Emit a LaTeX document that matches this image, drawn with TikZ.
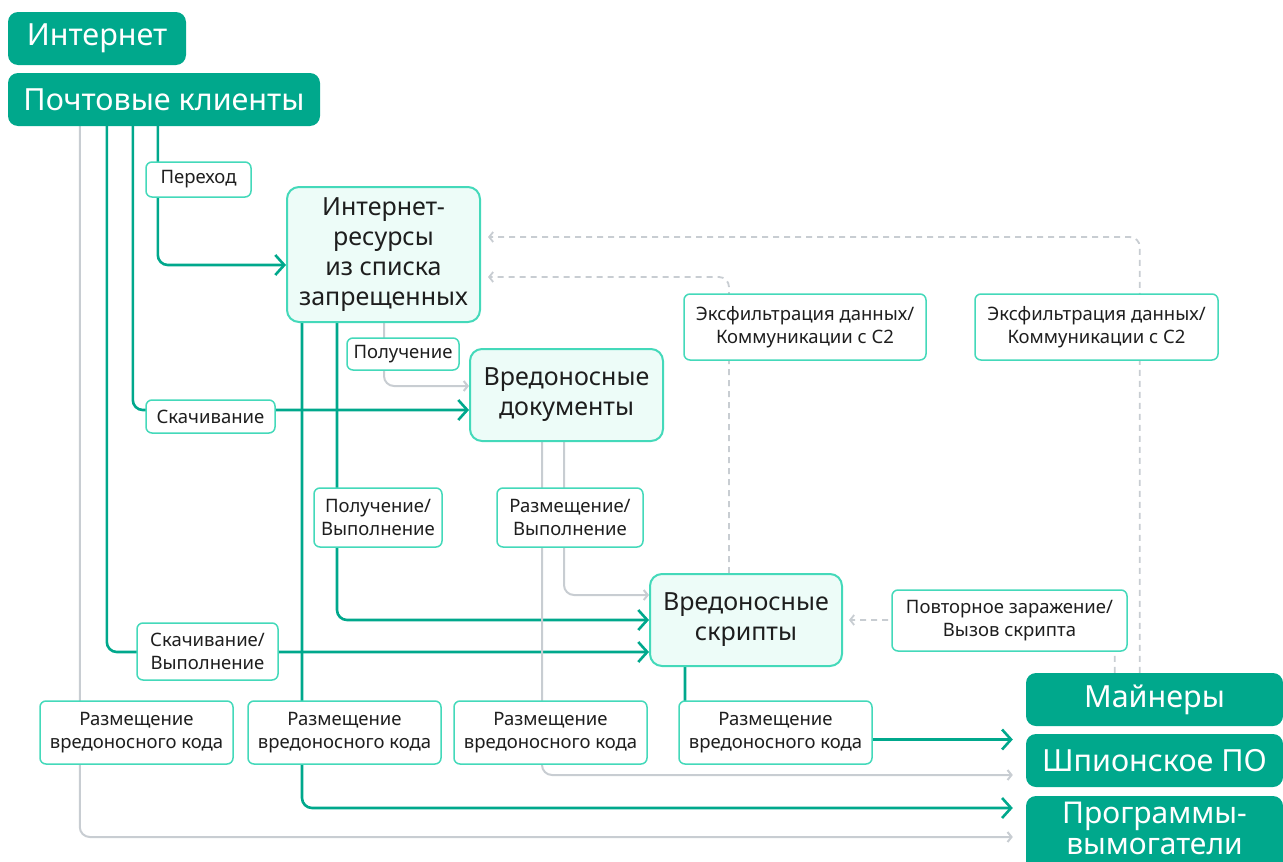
\documentclass[tikz,border=0pt]{standalone}
\usepackage{fontspec}
\setmainfont{Noto Sans}
\usetikzlibrary{arrows.meta,calc}
\definecolor{teal1}{HTML}{00A88C}
\definecolor{mint}{HTML}{44D9BA}
\definecolor{lite}{HTML}{EDFCF8}
\definecolor{grayl}{HTML}{C8CDD2}
\definecolor{ink}{HTML}{1E1E1E}
\pgfdeclarelayer{bg}
\pgfsetlayers{bg,main}
\begin{document}
\begin{tikzpicture}[x=1pt,y=-1pt,
  dark/.style={fill=teal1, rounded corners=10pt, text=white, font=\fontsize{30.5}{32}\selectfont, inner sep=0pt, align=center},
  lbox/.style={draw=mint, line width=2pt, fill=lite, rounded corners=12pt, text=ink, font=\fontsize{25}{30}\selectfont, inner sep=0pt, align=center},
  lab/.style={draw=mint, line width=1.5pt, fill=white, rounded corners=6pt, text=ink, font=\fontsize{18.5}{23}\selectfont, inner sep=0pt, align=center},
  gl/.style={draw=teal1, line width=2.6pt, rounded corners=10pt, -{Straight Barb[length=9pt,width=20pt]}},
  gr/.style={draw=grayl, line width=2pt, rounded corners=10pt, -{Straight Barb[length=4pt,width=10pt]}},
  dsh/.style={draw=grayl, line width=1.8pt, dash pattern=on 6pt off 5pt, rounded corners=10pt, -{Straight Barb[length=4pt,width=10pt]}}
]
\useasboundingbox (0,0) rectangle (1283,862);
% main boxes
\node[dark, minimum width=178pt, minimum height=53pt] (inet) at (97,38.5) {Интернет};
\node[dark, minimum width=312pt, minimum height=53pt] (mail) at (164,99.5) {Почтовые клиенты};
\node[lbox, minimum width=193pt, minimum height=135pt] (res) at (383.5,254.5) {Интернет-\\ресурсы\\из списка\\запрещенных};
\node[lbox, minimum width=193pt, minimum height=92pt] (docs) at (566.5,395) {Вредоносные\\документы};
\node[lbox, minimum width=192pt, minimum height=92pt] (scr) at (746,620) {Вредоносные\\скрипты};
\node[dark, minimum width=257pt, minimum height=53pt] (min) at (1154.5,699.5) {Майнеры};
\node[dark, minimum width=257pt, minimum height=53pt] (spy) at (1154.5,760.5) {Шпионское ПО};
\node[dark, minimum width=257pt, minimum height=78pt, text depth=14pt, font=\fontsize{30}{31}\selectfont] (ransom) at (1154.5,835) {Программы-\\вымогатели};
% labels
\node[lab, minimum width=105pt, minimum height=35pt] (lper) at (198.5,179.5) {Переход};
\node[lab, minimum width=112pt, minimum height=32pt] (lpol) at (403,354) {Получение};
\node[lab, minimum width=129pt, minimum height=33pt] (lska) at (210.5,416.5) {Скачивание};
\node[lab, minimum width=128pt, minimum height=59pt] (lpolv) at (378,517.5) {Получение/\\Выполнение};
\node[lab, minimum width=146pt, minimum height=59pt] (lrazv) at (570,517.5) {Размещение/\\Выполнение};
\node[lab, minimum width=242pt, minimum height=66pt] (lexa) at (805,327) {Эксфильтрация данных/\\Коммуникации с C2};
\node[lab, minimum width=243pt, minimum height=66pt] (lexb) at (1096.5,327) {Эксфильтрация данных/\\Коммуникации с C2};
\node[lab, minimum width=235pt, minimum height=61pt] (lpov) at (1009.5,620.5) {Повторное заражение/\\Вызов скрипта};
\node[lab, minimum width=141pt, minimum height=57pt] (lskav) at (207.5,651.5) {Скачивание/\\Выполнение};
\node[lab, minimum width=193pt, minimum height=63pt] (lra) at (136.5,732.5) {Размещение\\вредоносного кода};
\node[lab, minimum width=193pt, minimum height=63pt] (lrb) at (344.5,732.5) {Размещение\\вредоносного кода};
\node[lab, minimum width=193pt, minimum height=63pt] (lrc) at (550.5,732.5) {Размещение\\вредоносного кода};
\node[lab, minimum width=193pt, minimum height=63pt] (lrd) at (775.5,732.5) {Размещение\\вредоносного кода};
\coordinate (t4) at ([yshift=-7pt]lrd.east);
\begin{pgfonlayer}{bg}
% from mail clients
\draw[gr, shorten >=13pt] ([xshift=72pt]mail.south west) |- ([yshift=-2pt]ransom.west);
\draw[gl] ([xshift=99pt]mail.south west) |- ([yshift=-32pt]scr.west);
\draw[gl] ([xshift=125pt]mail.south west) |- ([yshift=-15pt]docs.west);
\draw[gl] ([xshift=150pt]mail.south west) |- ([yshift=-10.5pt]res.west);
% from internet resources
\draw[gl, shorten >=13pt] ([xshift=16pt]res.south west) |- ([yshift=27pt]ransom.west);
\draw[gl] ([xshift=51pt]res.south west) |- (scr.west);
\draw[gr] ([xshift=98pt]res.south west) |- ([yshift=9pt]docs.west);
% from documents
\draw[gr, shorten >=13pt] ([xshift=73pt]docs.south west) |- ([yshift=-14.5pt]spy.west);
\draw[gr] ([xshift=95pt]docs.south west) |- ([yshift=25pt]scr.west);
% from scripts
\draw[gl, shorten >=13pt] ([xshift=36pt]scr.south west) |- (t4 -| spy.west);
% dashed returns
\draw[dsh, shorten >=7pt] ([xshift=114pt]min.north west) |- ([yshift=17.5pt]res.east);
\draw[dsh, shorten >=6pt] ([xshift=89pt]min.north west) |- (scr.east);
\draw[dsh, shorten >=7pt] ([xshift=80pt]scr.north west) |- ([yshift=-22.5pt]res.east);
\end{pgfonlayer}
\end{tikzpicture}
\end{document}
